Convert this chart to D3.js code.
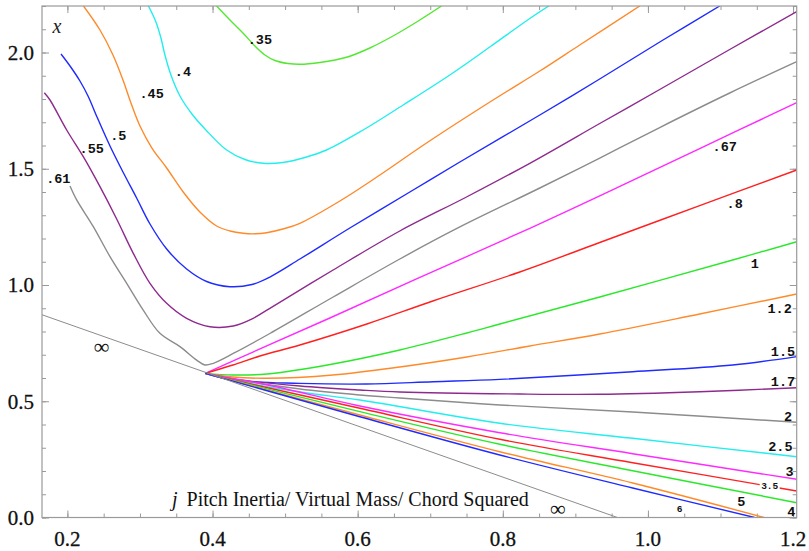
<!DOCTYPE html>
<html>
<head>
<meta charset="utf-8">
<script src="https://cdn.jsdelivr.net/npm/d3@7"></script>
<style>
  html, body { margin: 0; padding: 0; background: #fff; }
  svg { display: block; }
</style>
</head>
<body>
<svg id="chart" width="809" height="551"></svg>
<script>
// Contour lines of the pitch-stability parameter x versus j
// (pitch inertia / virtual mass / chord squared). Each array is [j, x].
const level35 = [[0.4056,2.2],[0.424,2.1398],[0.4419,2.0839],[0.4584,2.028],[0.4722,1.9892],[0.4859,1.9656],[0.5038,1.9527],[0.5204,1.9492],[0.5479,1.957],[0.5847,1.9794],[0.6168,2.0194],[0.6512,2.0753],[0.6857,2.1398],[0.7155,2.2]];
const level40 = [[0.3117,2.2],[0.322,2.1312],[0.3289,2.0624],[0.3344,1.9892],[0.3427,1.9032],[0.3551,1.8129],[0.3716,1.7355],[0.3909,1.6667],[0.4194,1.5806],[0.4446,1.5398],[0.4698,1.5234],[0.497,1.5269],[0.5273,1.5484],[0.5571,1.5806],[0.6076,1.6667],[0.6627,1.7742],[0.727,1.9032],[0.7821,2.0237],[0.8372,2.1462],[0.8634,2.2]];
const level45 = [[0.2222,2.2],[0.2449,2.0968],[0.2628,1.9892],[0.2766,1.8817],[0.2876,1.7828],[0.3,1.6839],[0.3165,1.5892],[0.3368,1.5032],[0.3596,1.4],[0.3826,1.314],[0.4056,1.2538],[0.424,1.2323],[0.4423,1.2224],[0.4584,1.2202],[0.4745,1.225],[0.497,1.2409],[0.5204,1.2654],[0.5755,1.3613],[0.6306,1.4731],[0.6949,1.6108],[0.7866,1.7957],[0.851,1.9204],[0.906,2.0323],[0.9887,2.2]];
const level50 = [[0.1912,1.9935],[0.2036,1.9419],[0.2173,1.8774],[0.2284,1.8129],[0.2408,1.7226],[0.2587,1.5978],[0.2766,1.486],[0.2954,1.3742],[0.3138,1.2624],[0.3368,1.1548],[0.3643,1.0688],[0.3919,1.0151],[0.424,0.9927],[0.4543,1.0022],[0.479,1.0344],[0.5204,1.1118],[0.5892,1.2452],[0.6719,1.4],[0.7408,1.529],[0.851,1.7312],[0.929,1.8774],[1.0208,2.0538],[1.0989,2.2]];
const level55 = [[0.1682,1.8271],[0.176,1.7957],[0.199,1.6667],[0.2219,1.5518],[0.2449,1.4228],[0.2679,1.2839],[0.2908,1.1363],[0.3138,1.0073],[0.3368,0.9213],[0.3643,0.8568],[0.3964,0.8206],[0.4285,0.8237],[0.456,0.8568],[0.479,0.8998],[0.5662,1.0645],[0.6581,1.2323],[0.75,1.3785],[0.8372,1.5234],[0.9336,1.6946],[1.0162,1.8409],[1.1127,2.0129],[1.205,2.1755]];
const level61 = [[0.2036,1.426],[0.2128,1.366],[0.2357,1.251],[0.2587,1.122],[0.2817,1.007],[0.3045,0.892],[0.3275,0.792],[0.3551,0.735],[0.3781,0.677],[0.3895,0.656],[0.401,0.6632],[0.4285,0.7054],[0.479,0.7914],[0.5662,0.9484],[0.6581,1.1118],[0.7408,1.2495],[0.851,1.4172],[0.9336,1.5462],[1.0162,1.6774],[1.1127,1.8258],[1.205,1.9604]];
const level67 = [[0.39,0.62],[0.4653,0.725],[0.5617,0.858],[0.6811,1.026],[0.8372,1.244],[0.9336,1.383],[1.0713,1.587],[1.205,1.784]];
const level80 = [[0.39,0.62],[0.4281,0.6559],[0.4653,0.6946],[0.5204,0.7419],[0.6127,0.8323],[0.7036,0.9312],[0.8234,1.0559],[0.9336,1.1828],[1.0713,1.3415],[1.205,1.4946]];
const level100 = [[0.39,0.62],[0.4281,0.6129],[0.4749,0.6172],[0.5658,0.6602],[0.6581,0.7204],[0.7504,0.7935],[0.7959,0.8323],[0.9336,0.9484],[1.1168,1.1075],[1.205,1.1862]];
const level120 = [[0.39,0.62],[0.4281,0.6043],[0.4749,0.5987],[0.5658,0.6129],[0.6581,0.6473],[0.7504,0.6903],[0.8372,0.7376],[0.9336,0.7892],[1.0713,0.8753],[1.205,0.9613]];
const level150 = [[0.39,0.62],[0.4281,0.591],[0.5204,0.577],[0.6123,0.574],[0.704,0.584],[0.7959,0.594],[0.979,0.627],[1.1168,0.656],[1.205,0.692]];
const level170 = [[0.39,0.62],[0.4281,0.5957],[0.5204,0.5656],[0.603,0.5484],[0.6581,0.5398],[0.8234,0.5312],[0.9336,0.530],[1.0713,0.541],[1.205,0.558]];
const level200 = [[0.39,0.62],[0.4281,0.5957],[0.5204,0.5527],[0.603,0.5269],[0.6581,0.514],[0.7959,0.4839],[0.979,0.4538],[1.205,0.4095]];
const level250 = [[0.39,0.62],[0.4281,0.5914],[0.5204,0.5398],[0.603,0.5054],[0.7959,0.4052],[0.979,0.3406],[1.205,0.2615]];
const level300 = [[0.39,0.62],[0.479,0.5677],[0.603,0.4796],[0.7959,0.3647],[0.979,0.2744],[1.205,0.1643]];
const level350 = [[0.39,0.62],[0.479,0.5557],[0.603,0.4697],[0.7959,0.3363],[0.979,0.2357],[1.205,0.114]];
const level400 = [[0.39,0.62],[0.479,0.5501],[0.603,0.4551],[0.7959,0.3148],[0.979,0.2013],[1.205,0.0637]];
const level500 = [[0.39,0.62],[0.479,0.5445],[0.603,0.4409],[0.7959,0.283],[0.979,0.1484],[1.16,0.0]];
const level600 = [[0.39,0.62],[0.479,0.5419],[0.603,0.4335],[0.7959,0.2688],[0.979,0.1269],[1.147,0.0]];
const levelInf = [[0.165,0.872],[0.958,0.0]];

// Level names, line colours and label anchors [j, x] in the same order.
const levelNames = [".35", ".4", ".45", ".5", ".55", ".61", ".67", ".8", "1", "1.2", "1.5", "1.7", "2", "2.5", "3", "3.5", "4", "5", "6", "∞"];
const levelLines = [level35, level40, level45, level50, level55, level61, level67, level80, level100, level120, level150, level170, level200, level250, level300, level350, level400, level500, level600, levelInf];
const levelColors = ["#55e833", "#22eeee", "#ff8a2a", "#1f2bff", "#8e2a8e", "#8c8c8c", "#ff2aff", "#ff2020", "#2ae82a", "#ff8a2a", "#1f2bff", "#8e2a8e", "#8c8c8c", "#22eeee", "#ff2aff", "#ff2020", "#2ae82a", "#ff8a2a", "#1f2bff", "#8c8c8c"];
const labelAt = [[0.4653,2.058],[0.3592,1.920],[0.3161,1.824],[0.2701,1.645],[0.2335,1.588],[0.1875,1.459],[1.1058,1.595],[1.1195,1.351],[1.1471,1.093],[1.1815,0.902],[1.1861,0.717],[1.1861,0.588],[1.193,0.437],[1.1825,0.308],[1.1953,0.197],[1.1678,0.135],[1.1976,0.025],[1.1288,0.068],[1.0438,0.040],[0.8757,0.041]];
const extraInfAt = [0.2472, 0.735];

// Axis ticks
const xMajorTicks = [0.2, 0.4, 0.6, 0.8, 1.0, 1.2];
const xMinorTicks = [0.2, 0.25, 0.3, 0.35, 0.4, 0.45, 0.5, 0.55, 0.6, 0.65, 0.7, 0.75, 0.8, 0.85, 0.9, 0.95, 1.0, 1.05, 1.1, 1.15, 1.2];
const yMajorTicks = [0.0, 0.5, 1.0, 1.5, 2.0];
const yMinorTicks = [0.0, 0.1, 0.2, 0.3, 0.4, 0.5, 0.6, 0.7, 0.8, 0.9, 1.0, 1.1, 1.2, 1.3, 1.4, 1.5, 1.6, 1.7, 1.8, 1.9, 2.0, 2.1, 2.2];

const svg = d3.select("#chart");
const plotLeft = 42, plotTop = 6, plotRight = 796.7, plotBottom = 517.5;

const x = d3.scaleLinear().domain([0.165, 1.205]).range([plotLeft, plotRight]);
const y = d3.scaleLinear().domain([0, 2.2]).range([plotBottom, plotTop]);

svg.append("defs").append("clipPath").attr("id", "plotClip")
  .append("rect").attr("x", plotLeft).attr("y", plotTop)
  .attr("width", plotRight - plotLeft).attr("height", plotBottom - plotTop);

const frameColor = "#9a9a9a";

// Ticks on all four sides, pointing into the frame
function tickGroup(axisFn, scale, values, size, tx, ty) {
  const g = svg.append("g").attr("transform", `translate(${tx},${ty})`)
    .call(axisFn(scale).tickValues(values).tickSize(size).tickFormat(""));
  g.select(".domain").remove();
  g.selectAll(".tick line").attr("stroke", frameColor).attr("stroke-width", 1);
  return g;
}
tickGroup(d3.axisBottom, x, xMajorTicks, -7, 0, plotBottom);
tickGroup(d3.axisBottom, x, xMinorTicks, -4, 0, plotBottom);
tickGroup(d3.axisTop, x, xMajorTicks, -7, 0, plotTop);
tickGroup(d3.axisTop, x, xMinorTicks, -4, 0, plotTop);
tickGroup(d3.axisLeft, y, yMajorTicks, -7, plotLeft, 0);
tickGroup(d3.axisLeft, y, yMinorTicks, -4, plotLeft, 0);
tickGroup(d3.axisRight, y, yMajorTicks, -7, plotRight, 0);
tickGroup(d3.axisRight, y, yMinorTicks, -4, plotRight, 0);

// Tick labels
const tickFont = "'Liberation Serif', 'Times New Roman', serif";
svg.append("g").selectAll("text").data(xMajorTicks).join("text")
  .attr("x", d => x(d)).attr("y", 546)
  .attr("text-anchor", "middle")
  .attr("font-family", tickFont).attr("font-size", 21).attr("fill", "#111")
  .attr("stroke", "#111").attr("stroke-width", 0.3)
  .text(d => d3.format(".1f")(d));
svg.append("g").selectAll("text").data(yMajorTicks).join("text")
  .attr("x", 34).attr("y", d => y(d))
  .attr("dy", "0.35em")
  .attr("text-anchor", "end")
  .attr("font-family", tickFont).attr("font-size", 21).attr("fill", "#111")
  .attr("stroke", "#111").attr("stroke-width", 0.3)
  .text(d => d3.format(".1f")(d));

// Contour curves
const line = d3.line()
  .x(d => x(d[0])).y(d => y(d[1]))
  .curve(d3.curveCatmullRom.alpha(0.5));

const curves = svg.append("g").attr("clip-path", "url(#plotClip)");
levelLines.forEach((pts, i) => {
  curves.append("path")
    .attr("d", line(pts))
    .attr("fill", "none")
    .attr("stroke", levelColors[i])
    .attr("stroke-width", i === levelLines.length - 1 ? 1 : 1.4);
});

// Frame
svg.append("rect")
  .attr("x", plotLeft).attr("y", plotTop)
  .attr("width", plotRight - plotLeft).attr("height", plotBottom - plotTop)
  .attr("fill", "none").attr("stroke", frameColor).attr("stroke-width", 1.2);

// Contour labels
const labelFont = "'Liberation Mono', 'Courier New', monospace";
const labels = svg.append("g");
levelNames.forEach((name, i) => {
  const [lx, ly] = labelAt[i];
  const small = name === "3.5" || name === "6";
  const isInf = name === "∞";
  if (name === "3.5") {
    labels.append("rect")
      .attr("x", x(lx) - 10).attr("y", y(ly) - 6)
      .attr("width", 20).attr("height", 11).attr("fill", "#fff");
  }
  labels.append("text")
    .attr("x", x(lx)).attr("y", y(ly))
    .attr("dy", "0.35em")
    .attr("text-anchor", "middle")
    .attr("font-family", isInf ? tickFont : labelFont)
    .attr("font-weight", isInf ? "normal" : "bold")
    .attr("font-size", isInf ? 22 : (small ? 9.5 : 13.5))
    .attr("fill", "#111")
    .text(name);
});
labels.append("text")
  .attr("x", x(extraInfAt[0])).attr("y", y(extraInfAt[1]))
  .attr("dy", "0.35em").attr("text-anchor", "middle")
  .attr("font-family", tickFont).attr("font-size", 22).attr("fill", "#111")
  .text("∞");

// Axis captions inside the frame
svg.append("text")
  .attr("x", 57).attr("y", 33)
  .attr("text-anchor", "middle")
  .attr("font-family", tickFont).attr("font-style", "italic")
  .attr("font-size", 20).attr("fill", "#222")
  .text("x");

const caption = svg.append("text")
  .attr("x", 172).attr("y", 506)
  .attr("font-family", tickFont).attr("font-size", 20).attr("fill", "#111");
caption.append("tspan").attr("font-style", "italic").text("j");
caption.append("tspan").attr("dx", 9).text("Pitch Inertia/  Virtual Mass/  Chord Squared");
</script>
</body>
</html>
